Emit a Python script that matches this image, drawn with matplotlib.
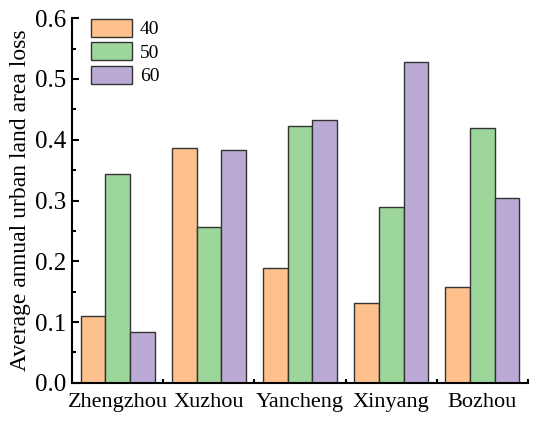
import numpy as np
import matplotlib.pyplot as plt
from matplotlib.ticker import MultipleLocator, FixedLocator

cities = ['Zhengzhou', 'Xuzhou', 'Yancheng', 'Xinyang', 'Bozhou']
series_names = ['40', '50', '60']
vals_40 = [0.110, 0.386, 0.189, 0.132, 0.158]
vals_50 = [0.344, 0.256, 0.422, 0.290, 0.419]
vals_60 = [0.084, 0.383, 0.432, 0.528, 0.304]

colors = ['#FEC18E', '#9DD69B', '#BCAAD6']

plt.rcParams['font.family'] = ['Liberation Serif', 'DejaVu Serif']

fig = plt.figure(figsize=(5.5, 4.23), dpi=100)
ax = fig.add_axes([0.131, 0.095, 0.829, 0.862])

x = np.arange(len(cities))
w = 0.27
for i, (vals, name) in enumerate(zip([vals_40, vals_50, vals_60], series_names)):
    ax.bar(x + (i - 1) * w, vals, width=w, color=colors[i], edgecolor='#333333',
           linewidth=1.0, label=name)

ax.set_xlim(-0.5, 4.5)
ax.set_ylim(0, 0.6)
ax.yaxis.set_major_locator(MultipleLocator(0.1))
ax.yaxis.set_minor_locator(MultipleLocator(0.05))
ax.yaxis.set_major_formatter(plt.FuncFormatter(lambda v, p: f'{v:.1f}'))
ax.set_xticks(x)
ax.set_xticklabels(cities)
ax.xaxis.set_minor_locator(FixedLocator(x + 0.5))

ax.tick_params(axis='x', which='major', length=0, labelsize=16, pad=7)
ax.tick_params(axis='x', which='minor', direction='in', length=3, width=1.5)
ax.tick_params(axis='y', which='major', direction='in', length=5, width=1.5,
               labelsize=18, pad=4)
ax.tick_params(axis='y', which='minor', direction='in', length=3, width=1.5)

for s in ['top', 'right']:
    ax.spines[s].set_visible(False)
for s in ['left', 'bottom']:
    ax.spines[s].set_linewidth(1.5)

ax.set_ylabel('Average annual urban land area loss', fontsize=17, labelpad=3)

leg = ax.legend(loc='upper left', frameon=False, fontsize=14, handlelength=2.1,
                handleheight=1.05, handletextpad=0.4, labelspacing=0.2,
                bbox_to_anchor=(0.025, 1.02), borderaxespad=0.0)

fig.savefig('out.png', dpi=100)
